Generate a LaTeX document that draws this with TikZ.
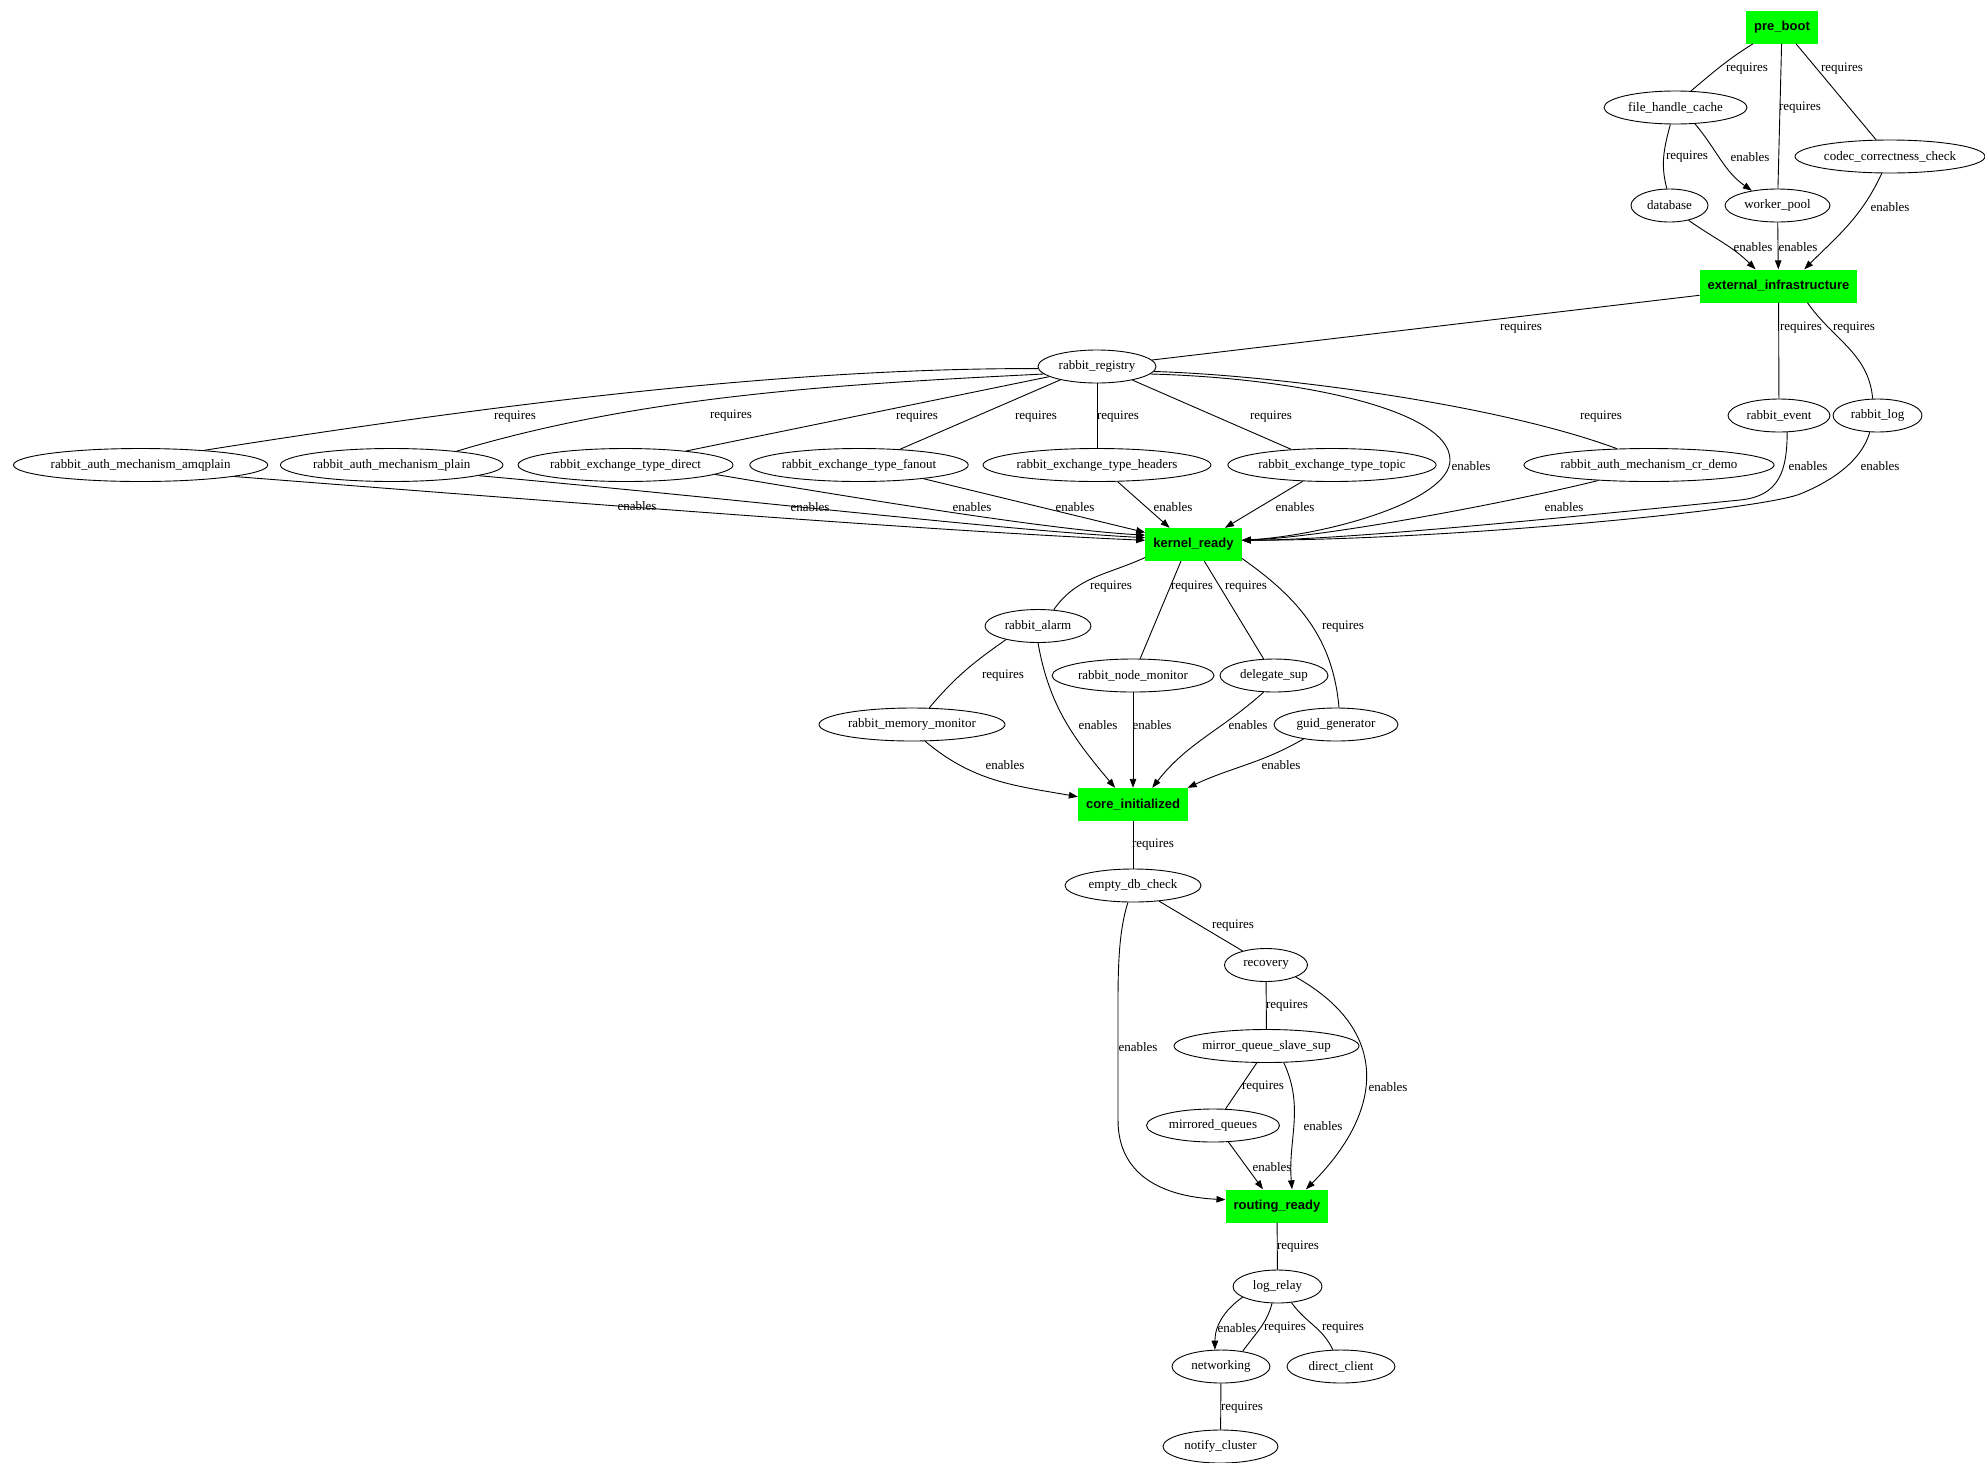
\documentclass[tikz,border=0pt]{standalone}
\usepackage{fontspec}
\setmainfont{Liberation Serif}
\setsansfont{Liberation Sans}
\usetikzlibrary{arrows.meta,shapes.geometric}
\definecolor{gvgreen}{RGB}{0,255,0}
\begin{document}
\begin{tikzpicture}[x=1pt,y=1pt,
  ell/.style={draw=black, line width=0.9pt, ellipse, inner xsep=0pt, inner ysep=0pt, minimum height=33pt, font=\fontsize{13}{15}\selectfont},
  gbox/.style={fill=gvgreen, draw=none, rectangle, inner xsep=8pt, inner ysep=0pt, minimum height=33pt, font=\fontsize{13}{15}\selectfont\sffamily\bfseries},
  conn/.style={draw=black, line width=0.9pt},
  conna/.style={conn, -{Triangle[length=9pt,width=6.5pt]}},
  elab/.style={inner sep=0pt, font=\fontsize{13}{15}\selectfont},
]
\useasboundingbox (0,0) rectangle (1985,-1462);
% boxes
\node[gbox] (pre) at (1782,-27) {pre\_boot};
\node[gbox] (ext) at (1778.5,-286) {external\_infrastructure};
\node[gbox] (kr) at (1193.5,-544.5) {kernel\_ready};
\node[gbox] (core) at (1133,-804.5) {core\_initialized};
\node[gbox] (rr) at (1277,-1206) {routing\_ready};
% ellipses
\node[ell,minimum width=143pt] (fhc) at (1675.5,-107.5) {file\_handle\_cache};
\node[ell,minimum width=190pt] (codec) at (1890,-156.5) {codec\_correctness\_check};
\node[ell,minimum width=77pt] (db) at (1669.5,-205.5) {database};
\node[ell,minimum width=105pt] (wp) at (1777.5,-205.5) {worker\_pool};
\node[ell,minimum width=118pt] (reg) at (1097,-366.5) {rabbit\_registry};
\node[ell,minimum width=102pt] (event) at (1779,-415.5) {rabbit\_event};
\node[ell,minimum width=89pt] (log) at (1877.5,-415.5) {rabbit\_log};
\node[ell,minimum width=250pt] (amq) at (140.6,-465) {rabbit\_auth\_mechanism\_amqplain};
\node[ell,minimum width=221pt] (plain) at (391.7,-465) {rabbit\_auth\_mechanism\_plain};
\node[ell,minimum width=215pt] (direct) at (625.5,-465) {rabbit\_exchange\_type\_direct};
\node[ell,minimum width=218pt] (fanout) at (859,-465) {rabbit\_exchange\_type\_fanout};
\node[ell,minimum width=228pt] (headers) at (1097,-465) {rabbit\_exchange\_type\_headers};
\node[ell,minimum width=208pt] (topic) at (1332,-465) {rabbit\_exchange\_type\_topic};
\node[ell,minimum width=248pt] (crdemo) at (1649,-465) {rabbit\_auth\_mechanism\_cr\_demo};
\node[ell,minimum width=106pt] (alarm) at (1038,-626) {rabbit\_alarm};
\node[ell,minimum width=162pt] (nodemon) at (1133,-675.5) {rabbit\_node\_monitor};
\node[ell,minimum width=108pt] (deleg) at (1274,-675.5) {delegate\_sup};
\node[ell,minimum width=186pt] (memmon) at (912,-724.5) {rabbit\_memory\_monitor};
\node[ell,minimum width=124pt] (guid) at (1336,-724.5) {guid\_generator};
\node[ell,minimum width=136pt] (edb) at (1133,-885.5) {empty\_db\_check};
\node[ell,minimum width=83pt] (recovery) at (1266,-965) {recovery};
\node[ell,minimum width=185pt] (mqss) at (1266.5,-1046) {mirror\_queue\_slave\_sup};
\node[ell,minimum width=133pt] (mq) at (1213,-1125.5) {mirrored\_queues};
\node[ell,minimum width=89pt] (logrelay) at (1277.5,-1286.5) {log\_relay};
\node[ell,minimum width=98pt] (networking) at (1221,-1366.5) {networking};
\node[ell,minimum width=108pt] (dclient) at (1341,-1366.5) {direct\_client};
\node[ell,minimum width=115pt] (notify) at (1220.5,-1446.5) {notify\_cluster};
% top cluster
\draw[conn] (pre.-150) to[out=-148,in=40] (fhc.47) node[elab] at (1747,-69) {requires};
\draw[conn] (pre) -- (wp) node[elab] at (1800,-108) {requires};
\draw[conn] (pre) -- (codec) node[elab] at (1842,-69) {requires};
\draw[conn] (fhc.-107) to[out=-105,in=105] (db.99) node[elab] at (1687,-157) {requires};
\draw[conna] (fhc.-40) to[out=-50,in=145] (wp.150) node[elab] at (1750,-157) {enables};
\draw[conna] (codec.-116) to[out=-115,in=45] (ext.33) node[elab] at (1890,-207) {enables};
\draw[conna] (db.-38) to[out=-35,in=135] (ext.144) node[elab] at (1753,-247) {enables};
\draw[conna] (wp) -- (ext) node[elab] at (1798,-247) {enables};
% external_infrastructure
\draw[conn] (ext) -- (reg) node[elab] at (1521,-328) {requires};
\draw[conn] (ext) -- (event) node[elab] at (1801,-328) {requires};
\draw[conn] (ext.-30) to[out=-55,in=95] (log.106) node[elab] at (1854,-328) {requires};
% rabbit_registry requires
\draw[conn] (reg.182) .. controls (788,-368) and (503,-403) .. (amq.13) node[elab] at (515,-417) {requires};
\draw[conn] (reg.188) .. controls (844,-384) and (644,-395) .. (plain.12) node[elab] at (731,-416) {requires};
\draw[conn] (reg.192) -- (direct.13) node[elab] at (917,-417) {requires};
\draw[conn] (reg.200) -- (fanout.21) node[elab] at (1036,-417) {requires};
\draw[conn] (reg) -- (headers) node[elab] at (1118,-417) {requires};
\draw[conn] (reg.-21) -- (topic.159) node[elab] at (1271,-417) {requires};
\draw[conn] (reg.-5) .. controls (1273,-375) and (1495,-403.5) .. (crdemo.153) node[elab] at (1601,-417) {requires};
\draw[conna] (reg.-8) .. controls (1300,-378) and (1450,-410) .. (1450,-460) .. controls (1450,-500) and (1330,-535) .. (kr.5) node[elab] at (1471,-466) {enables};
% enables to kernel_ready
\draw[conna] (amq.-7) .. controls (600,-505) and (950,-532) .. (kr.175) node[elab] at (637,-506) {enables};
\draw[conna] (plain.-7) .. controls (750,-500) and (1000,-530) .. (kr.172) node[elab] at (810,-507) {enables};
\draw[conna] (direct.-6) .. controls (850,-497) and (1050,-530) .. (kr.169) node[elab] at (972,-507) {enables};
\draw[conna] (fanout.-12) -- (kr.166) node[elab] at (1075,-507) {enables};
\draw[conna] (headers.-39) -- (kr.145) node[elab] at (1173,-507) {enables};
\draw[conna] (topic.209) -- (kr.28) node[elab] at (1295,-507) {enables};
\draw[conna] (crdemo.197) .. controls (1520,-500) and (1330,-537) .. (kr.5) node[elab] at (1564,-507) {enables};
\draw[conna] (event.-64) .. controls (1787,-470) and (1780,-496) .. (1740,-500) .. controls (1540,-520) and (1340,-540) .. (kr.5) node[elab] at (1808,-466) {enables};
\draw[conna] (log.-115) .. controls (1862,-460) and (1832.5,-481) .. (1800,-494) .. controls (1760,-510) and (1450,-540) .. (kr.5) node[elab] at (1880,-466) {enables};
% kernel_ready requires
\draw[conn] (kr.-165) to[out=-155,in=55] (alarm.46) node[elab] at (1111,-587) {requires};
\draw[conn] (kr.-127) -- (nodemon.67) node[elab] at (1192,-587) {requires};
\draw[conn] (kr.-57) -- (deleg.122) node[elab] at (1246,-587) {requires};
\draw[conn] (kr.-16) to[out=-35,in=95] (guid.80) node[elab] at (1343,-627) {requires};
\draw[conn] (alarm.203) to[out=-145,in=50] (memmon.44) node[elab] at (1003,-676) {requires};
% enables to core_initialized
\draw[conna] (alarm.-90) to[out=-80,in=130] (core.137) node[elab] at (1098,-725) {enables};
\draw[conna] (nodemon) -- (core) node[elab] at (1152,-725) {enables};
\draw[conna] (deleg.-122) to[out=-138,in=52] (core.41) node[elab] at (1248,-725) {enables};
\draw[conna] (guid.-156) to[out=-150,in=25] (core.17) node[elab] at (1281,-765) {enables};
\draw[conna] (memmon.-52) to[out=-40,in=170] (core.172) node[elab] at (1005,-765) {enables};
% core_initialized down
\draw[conn] (core) -- (edb) node[elab] at (1153,-845) {requires};
\draw[conn] (edb.-31) -- (recovery.149) node[elab] at (1233,-926) {requires};
\draw[conna] (edb.-107) .. controls (1121,-925) and (1118,-950) .. (1118,-1000) -- (1118,-1120) .. controls (1118,-1180) and (1170,-1197) .. (rr.173) node[elab] at (1138,-1047) {enables};
\draw[conn] (recovery) -- (mqss) node[elab] at (1287,-1006) {requires};
\draw[conna] (recovery.-22) .. controls (1390,-1030) and (1385,-1110) .. (rr.30) node[elab] at (1388,-1087) {enables};
\draw[conn] (mqss.-120) -- (mq.53) node[elab] at (1263,-1087) {requires};
\draw[conna] (mqss.-44) to[out=-65,in=95] (rr.48) node[elab] at (1323,-1126) {enables};
\draw[conna] (mq.-47) -- (rr.130) node[elab] at (1272,-1167) {enables};
% routing_ready down
\draw[conn] (rr) -- (logrelay) node[elab] at (1298,-1247) {requires};
\draw[conna] (logrelay.-163) to[out=-145,in=90] (networking.110) node[elab] at (1237,-1328) {enables};
\draw[conn] (logrelay.-108) to[out=-105,in=55] (networking.35) node[elab] at (1285,-1328) {requires};
\draw[conn] (logrelay.-49) to[out=-55,in=115] (dclient.116) node[elab] at (1343,-1328) {requires};
\draw[conn] (networking) -- (notify) node[elab] at (1242,-1408) {requires};
\end{tikzpicture}
\end{document}
